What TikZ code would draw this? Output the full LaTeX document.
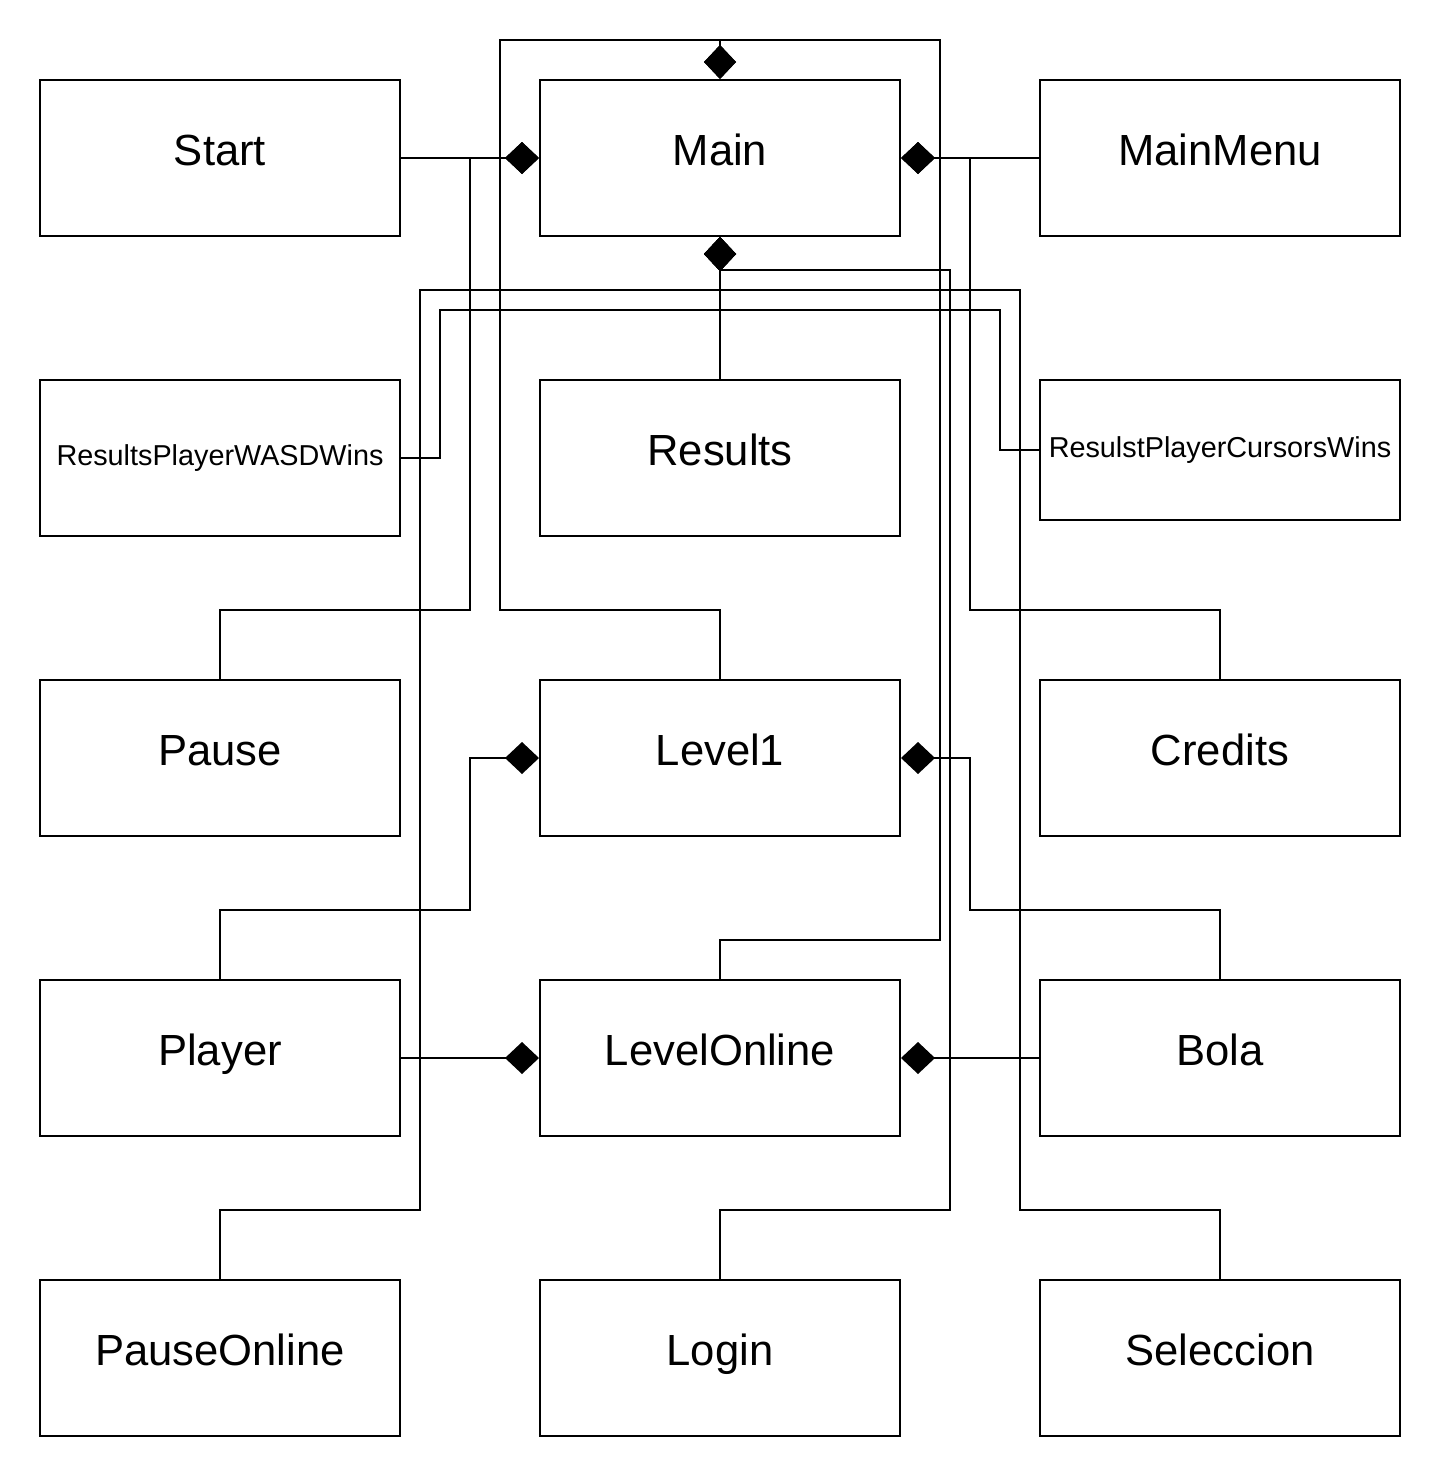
\documentclass[tikz,border=0pt]{standalone}
\usepackage{fontspec}
\setmainfont{Liberation Sans}
\usetikzlibrary{arrows.meta}

\tikzset{every picture/.style={line width=1pt}}
\tikzset{
  classbox/.style={draw, minimum width=180pt, minimum height=78pt, inner sep=0pt,
    font=\fontsize{21.8pt}{26pt}\selectfont, text height=0.95em, text depth=0.21em},
  smallbox/.style={classbox, font=\fontsize{14.4pt}{17pt}\selectfont},
  comp/.style={-{Diamond[length=17pt,width=16pt]}}
}

\begin{document}
\begin{tikzpicture}[x=0.5pt,y=0.5pt,yscale=-1,xscale=1]
	\useasboundingbox (0,0) rectangle (1440,1477);

	%Shape: Rectangle
	\node[classbox] (start) at (220,158) {Start};
	\node[classbox] (main) at (720,158) {Main};
	\node[classbox] (mainmenu) at (1220,158) {MainMenu};
	%Shape: Rectangle
	\node[smallbox] (wasd) at (220,458) {ResultsPlayerWASDWins};
	\node[classbox] (results) at (720,458) {Results};
	\node[smallbox, minimum height=70pt] (cursors) at (1220,450) {ResulstPlayerCursorsWins};
	%Shape: Rectangle
	\node[classbox] (pause) at (220,758) {Pause};
	\node[classbox] (level1) at (720,758) {Level1};
	\node[classbox] (credits) at (1220,758) {Credits};
	%Shape: Rectangle
	\node[classbox] (player) at (220,1058) {Player};
	\node[classbox] (levelonline) at (720,1058) {LevelOnline};
	\node[classbox] (bola) at (1220,1058) {Bola};
	%Shape: Rectangle
	\node[classbox] (pauseonline) at (220,1358) {PauseOnline};
	\node[classbox] (login) at (720,1358) {Login};
	\node[classbox] (seleccion) at (1220,1358) {Seleccion};

	%Straight Lines
	\draw[comp] (start.east) -- (main.west);
	\draw[comp] (pause.north) |- (470,610) |- (main.west);
	\draw[comp] (mainmenu.west) -- (main.east);
	\draw[comp] (credits.north) |- (970,610) |- (main.east);
	%Straight Lines
	\draw[comp] (level1.north) |- (500,610) |- (720,40) -- (main.north);
	\draw[comp] (levelonline.north) |- (940,940) |- (720,40) -- (main.north);
	%Straight Lines
	\draw[comp] (results.north) -- (main.south);
	\draw[comp] (login.north) |- (950,1210) |- (720,270) -- (main.south);
	\draw[comp] (pauseonline.north) |- (420,1210) |- (720,290) -- (main.south);
	\draw[comp] (seleccion.north) |- (1020,1210) |- (720,290) -- (main.south);
	\draw[comp] (wasd.east) -| (440,310) -| (main.south);
	\draw[comp] (cursors.west) -| (1000,310) -| (main.south);
	%Straight Lines
	\draw[comp] (player.north) |- (470,910) |- (level1.west);
	\draw[comp] (bola.north) |- (970,910) |- (level1.east);
	\draw[comp] (player.east) -- (levelonline.west);
	\draw[comp] (bola.west) -- (levelonline.east);

\end{tikzpicture}
\end{document}
